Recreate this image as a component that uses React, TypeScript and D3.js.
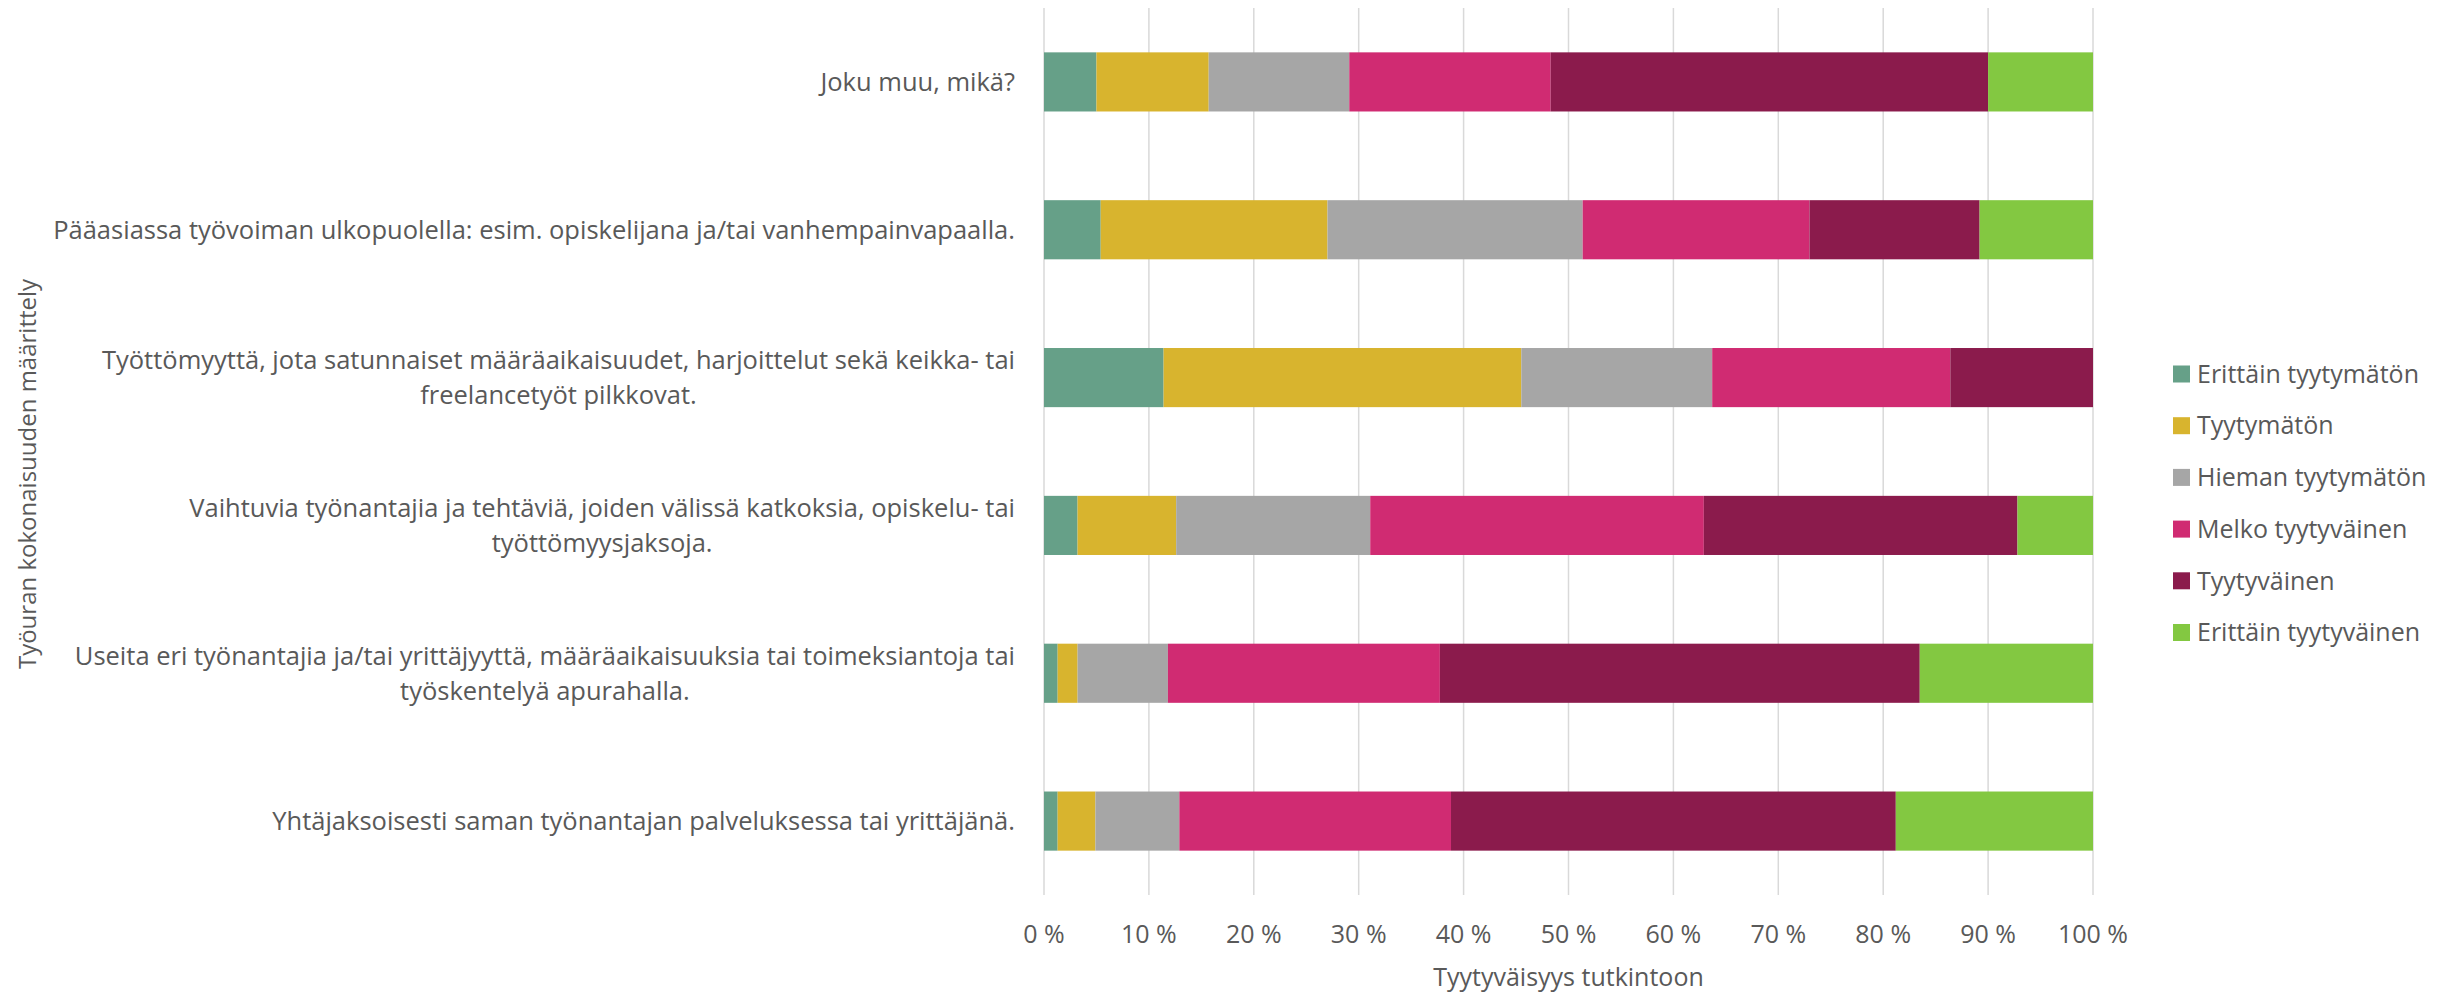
import React, { useEffect, useRef } from 'react';
import * as d3 from 'd3';

// categories from top to bottom
const categories = [
  'Joku muu, mikä?',
  'Pääasiassa työvoiman ulkopuolella: esim. opiskelijana ja/tai vanhempainvapaalla.',
  'Työttömyyttä, jota satunnaiset määräaikaisuudet, harjoittelut sekä keikka- tai|freelancetyöt pilkkovat.',
  'Vaihtuvia työnantajia ja tehtäviä, joiden välissä katkoksia, opiskelu- tai|työttömyysjaksoja.',
  'Useita eri työnantajia ja/tai yrittäjyyttä, määräaikaisuuksia tai toimeksiantoja tai|työskentelyä apurahalla.',
  'Yhtäjaksoisesti saman työnantajan palveluksessa tai yrittäjänä.',
];

const seriesNames = [
  'Erittäin tyytymätön',
  'Tyytymätön',
  'Hieman tyytymätön',
  'Melko tyytyväinen',
  'Tyytyväinen',
  'Erittäin tyytyväinen',
];

const seriesColors = ['#66a088', '#d8b42e', '#a6a6a6', '#d02b72', '#8b1b4c', '#83c841'];

// percentages per series, in category order
const erittainTyytymaton = [5.0, 5.4, 11.4, 3.2, 1.3, 1.3];
const tyytymaton = [10.7, 21.6, 34.1, 9.4, 1.9, 3.6];
const hiemanTyytymaton = [13.4, 24.3, 18.2, 18.5, 8.6, 8.0];
const melkoTyytyvainen = [19.2, 21.6, 22.7, 31.8, 25.9, 25.9];
const tyytyvainen = [41.7, 16.2, 13.6, 29.9, 45.7, 42.4];
const erittainTyytyvainen = [10.0, 10.8, 0, 7.2, 16.5, 18.8];

const xTicks = [0, 0.1, 0.2, 0.3, 0.4, 0.5, 0.6, 0.7, 0.8, 0.9, 1];

const xTitle = 'Tyytyväisyys tutkintoon';
const yTitle = 'Työuran kokonaisuuden määrittely';

export default function App() {
  const svgRef = useRef<SVGSVGElement>(null);

  useEffect(() => {
    d3.select(svgRef.current).selectAll('*').remove();

    const width = 2451;
    const height = 992;
    const font = "'Open Sans', 'DejaVu Sans', sans-serif";
    const txt = '#595959';

    const cols = [erittainTyytymaton, tyytymaton, hiemanTyytymaton, melkoTyytyvainen, tyytyvainen, erittainTyytyvainen];
    const table = categories.map((c, i) => {
      const row: any = { cat: c };
      seriesNames.forEach((s, j) => { row[s] = cols[j][i]; });
      return row;
    });

    const stacked = d3.stack()
      .keys(seriesNames)
      .offset(d3.stackOffsetExpand)(table);

    const x = d3.scaleLinear().domain([0, 1]).range([1044, 2093]);
    const y = d3.scaleBand().domain(categories).range([8, 895]).paddingInner(0.6).paddingOuter(0.3);

    const svg = d3.select(svgRef.current)
      .attr('width', width)
      .attr('height', height)
      .attr('font-family', font);

    svg.append('rect').attr('width', width).attr('height', height).attr('fill', '#fff');

    // gridlines
    svg.append('g')
      .selectAll('line')
      .data(xTicks)
      .join('line')
      .attr('x1', d => x(d)).attr('x2', d => x(d))
      .attr('y1', 8).attr('y2', 895)
      .attr('stroke', '#d9d9d9')
      .attr('stroke-width', 1.5);

    // bars
    svg.append('g')
      .selectAll('g')
      .data(stacked)
      .join('g')
      .attr('fill', (d, i) => seriesColors[i])
      .selectAll('rect')
      .data(d => d)
      .join('rect')
      .attr('x', d => x(d[0]))
      .attr('width', d => x(d[1]) - x(d[0]))
      .attr('y', d => y((d.data as any).cat)!)
      .attr('height', y.bandwidth());

    // x tick labels
    svg.append('g')
      .selectAll('text')
      .data(xTicks)
      .join('text')
      .attr('x', d => x(d))
      .attr('y', 943)
      .attr('text-anchor', 'middle')
      .attr('font-size', 25)
      .attr('fill', txt)
      .text(d => `${Math.round(d * 100)} %`);

    svg.append('text')
      .attr('x', (x(0) + x(1)) / 2)
      .attr('y', 986)
      .attr('text-anchor', 'middle')
      .attr('font-size', 25)
      .attr('fill', txt)
      .text(xTitle);

    svg.append('text')
      .attr('transform', `translate(36,474) rotate(-90)`)
      .attr('text-anchor', 'middle')
      .attr('font-size', 24)
      .attr('fill', txt)
      .text(yTitle);

    // category labels, lines centred on each other, block right aligned
    const right = 1015;
    const lineH = 35;
    categories.forEach(c => {
      const lines = c.split('|');
      const cy = y(c)! + y.bandwidth() / 2;
      const g = svg.append('g');
      const ts = lines.map((l, k) => g.append('text')
        .attr('y', cy + (k - (lines.length - 1) / 2) * lineH)
        .attr('dy', '0.36em')
        .attr('font-size', 25.5)
        .attr('fill', txt)
        .attr('text-anchor', 'middle')
        .text(l));
      const w = d3.max(ts, t => (t.node() as SVGTextElement).getComputedTextLength()) || 0;
      ts.forEach(t => t.attr('x', right - w / 2));
    });

    // legend
    const leg = svg.append('g')
      .selectAll('g')
      .data(seriesNames)
      .join('g')
      .attr('transform', (d, i) => `translate(2173,${374 + i * 51.7})`);
    leg.append('rect')
      .attr('y', -8.5)
      .attr('width', 17)
      .attr('height', 17)
      .attr('fill', (d, i) => seriesColors[i]);
    leg.append('text')
      .attr('x', 24)
      .attr('dy', '0.35em')
      .attr('font-size', 25)
      .attr('fill', txt)
      .text(d => d);
  }, []);

  return (
    <div style={{ position: 'absolute', left: 0, top: 0 }}>
      <svg ref={svgRef} style={{ display: 'block' }}></svg>
    </div>
  );
}
